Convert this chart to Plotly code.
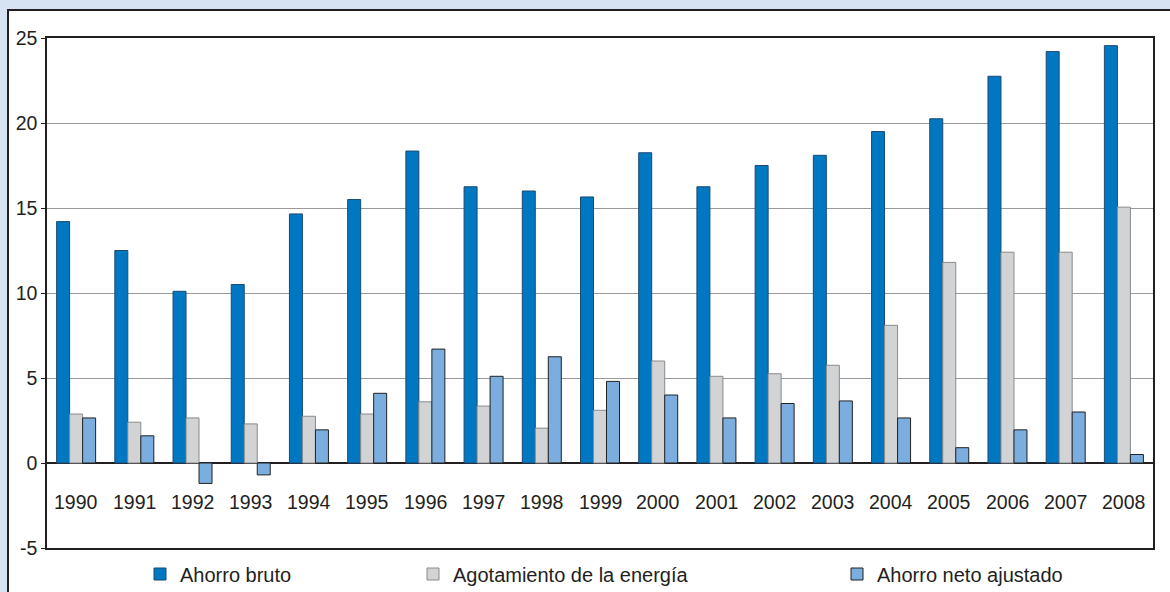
import plotly.graph_objects as go

years = list(range(1990, 2009))
ahorro_bruto = [14.2, 12.5, 10.1, 10.5, 14.65, 15.5, 18.35, 16.25, 16.0, 15.65,
                18.25, 16.25, 17.5, 18.1, 19.5, 20.25, 22.75, 24.2, 24.55]
agotamiento = [2.88, 2.4, 2.65, 2.3, 2.75, 2.88, 3.6, 3.35, 2.05, 3.1,
               6.0, 5.1, 5.25, 5.75, 8.1, 11.8, 12.4, 12.4, 15.05]
ahorro_neto = [2.65, 1.6, -1.2, -0.7, 1.95, 4.1, 6.7, 5.1, 6.25, 4.8,
               4.0, 2.65, 3.5, 3.65, 2.65, 0.9, 1.95, 3.0, 0.5]
series_names = ["Ahorro bruto", "Agotamiento de la energía", "Ahorro neto ajustado"]
y_ticks = [-5, 0, 5, 10, 15, 20, 25]
y_tick_labels = ["-5", "0", "5", "10", "15", "20", "25"]

colors = ["#0077c1", "#d2d3d5", "#7badde"]
outlines = ["#1c4a73", "#8a8a8a", "#222222"]
legends = ["legend", "legend2", "legend3"]

W, H = 1170, 592
L, R, T, B = 47, 17, 38, 44
pw = W - L - R
ph = H - T - B

def px_x(px):
    return (px - L) / pw

def px_y(py):
    return (H - B - py) / ph

fig = go.Figure()
for name, vals, c, oc, lg in zip(series_names, [ahorro_bruto, agotamiento, ahorro_neto],
                                  colors, outlines, legends):
    fig.add_trace(go.Bar(x=years, y=vals, name=name, legend=lg, showlegend=True,
                         marker=dict(color=c, line=dict(color=oc, width=1))))

for yr in years:
    fig.add_annotation(x=yr, y=-2.3, xref="x", yref="y", text=str(yr), showarrow=False,
                       font=dict(family="Liberation Sans, Arial, sans-serif", size=19.5, color="#231f20"))

fig.add_shape(type="rect", xref="paper", yref="paper", layer="below",
              x0=px_x(8), x1=px_x(1180), y0=px_y(620), y1=px_y(10),
              fillcolor="white", line=dict(color="#231f20", width=2))

legend_font = dict(family="Liberation Sans, Arial, sans-serif", size=20, color="#231f20")
leg_common = dict(orientation="h", yanchor="middle", y=1 - 574 / H, yref="container",
                  xref="container", xanchor="left",
                  bgcolor="rgba(0,0,0,0)", font=legend_font, itemwidth=30)

fig.update_layout(
    width=W, height=H,
    margin=dict(l=L, r=R, t=T, b=B, autoexpand=False),
    paper_bgcolor="#d6e3f3",
    plot_bgcolor="white",
    barmode="group",
    bargap=0.33,
    bargroupgap=0,
    showlegend=True,
    font=dict(family="Liberation Sans, Arial, sans-serif", size=19, color="#231f20"),
    legend=dict(x=140 / W, **leg_common),
    legend2=dict(x=413 / W, **leg_common),
    legend3=dict(x=837 / W, **leg_common),
    xaxis=dict(type="linear", range=[1989.5, 2008.5], showticklabels=False,
               showgrid=False, ticks="", zeroline=False,
               showline=True, mirror=True, linecolor="#231f20", linewidth=1.5),
    yaxis=dict(range=[-5, 25], tickvals=y_ticks, ticktext=y_tick_labels,
               showgrid=True, gridcolor="#9a9a9a",
               gridwidth=1, zeroline=True, zerolinecolor="#231f20", zerolinewidth=1.5,
               ticks="outside", ticklen=4, tickcolor="#231f20",
               showline=True, mirror=True, linecolor="#231f20", linewidth=1.5,
               tickfont=dict(size=19.5)),
)

fig.write_html("out.html", config={"displayModeBar": False},
               post_script="document.body.style.margin='0';document.body.style.overflow='hidden';")
